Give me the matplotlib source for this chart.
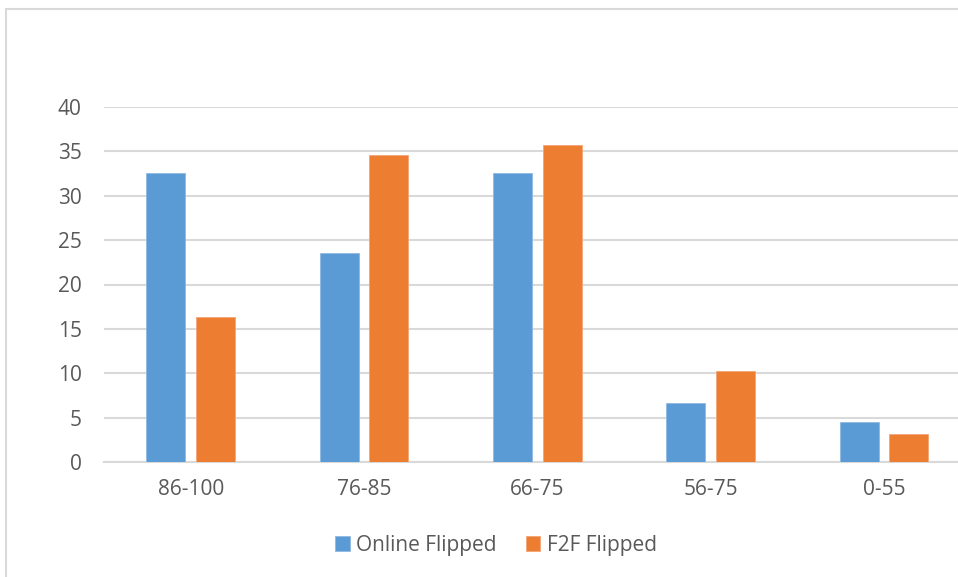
import numpy as np
import matplotlib
matplotlib.use('Agg')
import matplotlib.pyplot as plt
from matplotlib.patches import Rectangle

categories = ['86-100', '76-85', '66-75', '56-75', '0-55']
online_flipped = [32.6, 23.5, 32.6, 6.7, 4.5]
f2f_flipped = [16.3, 34.6, 35.7, 10.2, 3.1]
yticks = [0, 5, 10, 15, 20, 25, 30, 35, 40]

plt.rcParams['font.family'] = ['Open Sans', 'DejaVu Sans']

fig = plt.figure(figsize=(9.58, 5.77), dpi=100)
W, H = 958, 577
ax = fig.add_axes([104 / W, 1 - 462 / H, (958 - 104) / W, (462 - 107) / H])

x = np.arange(len(categories))
w = 0.225
off = 0.143
ax.bar(x - off, online_flipped, w, color='#5B9BD5', edgecolor='#8fb9e3', linewidth=0.6,
       label='Online Flipped', zorder=3)
ax.bar(x + off, f2f_flipped, w, color='#ED7D31', edgecolor='#f3a676', linewidth=0.6,
       label='F2F Flipped', zorder=3)

ax.set_xlim(-0.5, 4.428)
ax.set_ylim(0, 40)
ax.set_yticks(yticks)
ax.set_xticks(x)
ax.set_xticklabels(categories)
ax.yaxis.grid(True, color='#d9d9d9', linewidth=1.5, zorder=0)
ax.set_axisbelow(True)
for s in ['top', 'right', 'left']:
    ax.spines[s].set_visible(False)
ax.spines['bottom'].set_color('#d9d9d9')
ax.spines['bottom'].set_linewidth(1.5)
ax.tick_params(axis='both', length=0, labelsize=15, labelcolor='#595959')
ax.tick_params(axis='y', pad=16)
ax.tick_params(axis='x', pad=12)

leg = fig.legend(loc='center', bbox_to_anchor=(496 / W, 1 - 545 / H), ncol=2, frameon=False,
                 fontsize=15, handlelength=0.7, handleheight=0.7, handletextpad=0.3,
                 columnspacing=1.4, labelcolor='#595959')

# chart area border (cropped at right/bottom)
fig.patches.append(Rectangle((6 / W, -0.1), 1.2, 1 - 9 / H + 0.1, transform=fig.transFigure,
                             fill=False, edgecolor='#d9d9d9', linewidth=1.5))

fig.savefig('out.png', dpi=100)
